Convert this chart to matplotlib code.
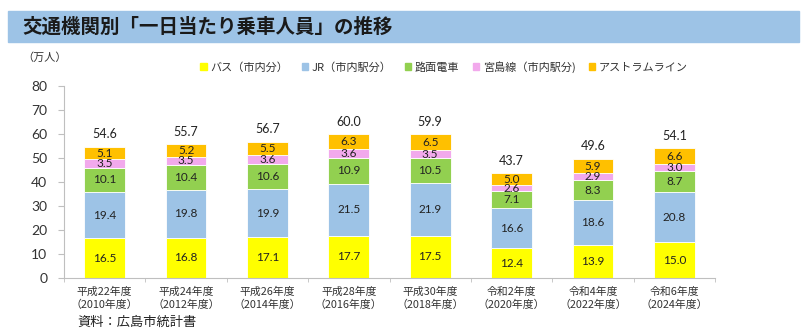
import numpy as np
import matplotlib
matplotlib.use('Agg')
import matplotlib.pyplot as plt
from matplotlib.patches import Rectangle, Patch

plt.rcParams['font.family'] = ['Noto Sans CJK JP', 'DejaVu Sans']

# data (万人)
years = ['平成22年度\n（2010年度）', '平成24年度\n（2012年度）', '平成26年度\n（2014年度）',
         '平成28年度\n（2016年度）', '平成30年度\n（2018年度）', '令和2年度\n（2020年度）',
         '令和4年度\n（2022年度）', '令和6年度\n（2024年度）']
bus = [16.5, 16.8, 17.1, 17.7, 17.5, 12.4, 13.9, 15.0]
jr = [19.4, 19.8, 19.9, 21.5, 21.9, 16.6, 18.6, 20.8]
tram = [10.1, 10.4, 10.6, 10.9, 10.5, 7.1, 8.3, 8.7]
miyajima = [3.5, 3.5, 3.6, 3.6, 3.5, 2.6, 2.9, 3.0]
astram = [5.1, 5.2, 5.5, 6.3, 6.5, 5.0, 5.9, 6.6]
totals = [54.6, 55.7, 56.7, 60.0, 59.9, 43.7, 49.6, 54.1]

series = [bus, jr, tram, miyajima, astram]
names = ['バス（市内分）', 'JR（市内駅分）', '路面電車', '宮島線（市内駅分)', 'アストラムライン']
colors = ['#FFFF00', '#9DC3E6', '#92D050', '#F2A9EC', '#FFC000']

fig = plt.figure(figsize=(8.08, 3.28), dpi=100)
W, H = 808, 328

# title band
fig.patches.append(Rectangle((8 / W, 1 - 42 / H), 791 / W, 31 / H,
                             transform=fig.transFigure, color='#9DC3E6', zorder=0))
fig.text(22 / W, 1 - 27 / H, '交通機関別「一日当たり乗車人員」の推移', fontsize=14,
         fontweight='bold', va='center', ha='left', color='#1a1a1a')

ax = fig.add_axes([64 / W, 1 - 278 / H, 651 / W, 192 / H])
x = np.arange(len(years))
bottom = np.zeros(len(years))
for vals, name, c in zip(series, names, colors):
    vals = np.array(vals)
    ax.bar(x, vals, 0.5, bottom=bottom, color=c, edgecolor='white', linewidth=0.6, label=name)
    for xi, b, v in zip(x, bottom, vals):
        ax.text(xi, b + v / 2, f'{v:.1f}', ha='center', va='center', fontsize=8.5,
                family='Lato', color='#222222')
    bottom += vals

for xi, t in zip(x, totals):
    ax.text(xi, t + 5.2, f'{t:.1f}', ha='center', va='center', fontsize=9,
            family='Lato', color='#222222')

ax.set_xlim(-0.5, len(years) - 0.5)
ax.set_ylim(0, 80)
ax.set_yticks(range(0, 81, 10))
ax.set_xticks(x)
ax.set_xticklabels(years, fontsize=7.8, color='#333333', linespacing=1.35)
ax.set_xticks(np.arange(-0.5, len(years)), minor=True)
ax.tick_params(axis='x', which='major', length=0, pad=6)
ax.tick_params(axis='x', which='minor', length=3, color='#BFBFBF')
ax.tick_params(axis='y', length=4, color='#BFBFBF', labelcolor='#333333', pad=8)
for lab in ax.get_yticklabels():
    lab.set_family('Lato')
    lab.set_fontsize(10)
for s in ['top', 'right']:
    ax.spines[s].set_visible(False)
ax.spines['left'].set_color('#BFBFBF')
ax.spines['bottom'].set_color('#BFBFBF')

fig.text(22 / W, 1 - 58 / H, '（万人）', fontsize=8, va='center', color='#333333')

handles = [Patch(color=c, label=n) for c, n in zip(colors, names)]
fig.legend(handles=handles, loc='center', bbox_to_anchor=(444 / W, 1 - 67 / H), ncol=5,
           frameon=False, fontsize=8, handlelength=0.6, handleheight=0.6,
           handletextpad=0.3, columnspacing=1.2, labelcolor='#333333')

fig.text(77 / W, 1 - 322 / H, '資料：広島市統計書', fontsize=9.5, va='center', color='#222222')

fig.savefig('out.png', dpi=100)
